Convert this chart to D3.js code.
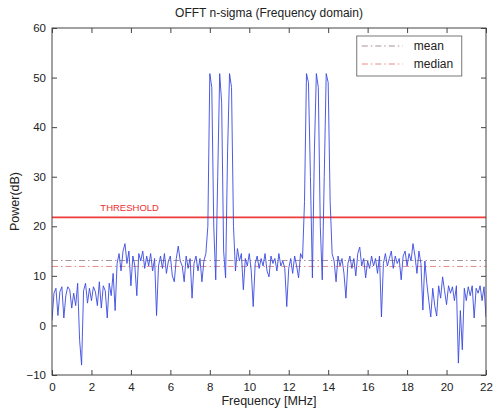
<!DOCTYPE html>
<html>
<head>
<meta charset="utf-8">
<script src="https://cdn.jsdelivr.net/npm/d3@7"></script>
<style>
  body { margin: 0; background: #fff; }
  svg text { font-family: "Liberation Sans", Arial, sans-serif; }
</style>
</head>
<body>
<div id="chart"></div>
<script>
// bin spacing of the spectrum in MHz
const freqStep = 0.1;

// power in dB, one value per 0.1 MHz bin from 0 to 22 MHz
const power = [
  1.0, 6.5, 7.5, 2.0, 6.8, 7.8, 1.5, 6.0, 7.8, 7.2,
  3.5, 6.5, 4.0, 8.5, -3.0, -8.0, 7.0, 8.5, 4.5, 7.5,
  5.0, 7.8, 6.8, 4.0, 8.8, 3.5, 8.0, 7.0, 1.5, 8.5,
  6.0, 10.5, 3.0, 12.5, 14.5, 11.0, 15.0, 16.5, 12.5, 15.0,
  8.0, 14.0, 12.0, 6.0, 14.5, 13.0, 15.0, 11.5, 14.0, 12.0,
  14.5, 11.0, 13.5, 2.0, 12.0, 14.0, 11.5, 14.5, 10.5, 13.0,
  14.0, 10.0, 8.8, 13.5, 16.0, 13.0, 12.0, 8.8, 14.0, 11.5,
  13.5, 5.5, 12.5, 14.0, 11.0, 13.5, 8.8, 13.0, 14.5, 20.0,
  50.8, 48.0, 20.0, 9.2, 30.0, 50.8, 45.0, 15.0, 9.6, 35.0,
  50.8, 48.0, 20.0, 11.0, 15.5, 13.0, 14.5, 7.2, 13.5, 12.0,
  14.5, 11.0, 3.8, 12.5, 14.0, 11.5, 13.5, 12.0, 14.5, 11.0,
  9.8, 14.0, 12.5, 13.5, 11.0, 14.5, 12.0, 13.0, 11.5, 3.8,
  11.5, 13.5, 10.5, 14.0, 12.0, 9.6, 14.5, 13.5, 25.0, 50.8,
  49.0, 30.0, 9.6, 35.0, 50.8, 48.0, 20.0, 9.2, 30.0, 50.8,
  49.0, 25.0, 14.5, 13.0, 8.8, 14.0, 12.0, 13.5, 10.5, 5.5,
  12.5, 14.0, 11.5, 13.5, 10.0, 14.5, 15.8, 12.0, 13.5, 9.6,
  13.0, 11.5, 14.0, 12.0, 13.5, 10.5, 14.0, 1.7, 12.5, 14.5,
  12.0, 13.5, 15.0, 11.5, 14.0, 12.5, 13.5, 9.2, 14.0, 15.0,
  12.0, 14.5, 13.0, 16.5, 14.0, 10.5, 15.0, 12.5, 3.1, 13.0,
  8.5, 5.0, 1.7, 7.5, 4.0, 1.9, 8.0, 5.5, 9.8, 7.0,
  4.2, 8.0, 6.5, 7.8, 5.0, 8.0, -7.6, 3.0, -4.9, 7.5,
  5.0, 7.8, 6.0, 8.0, 1.5, 7.5, 6.5, 8.0, 5.0, 7.8,
  1.7
];

// reference levels in dB
const thresholdLevel = 21.8;
const meanLevel = 13.1;
const medianLevel = 11.9;

const xTicks = [0, 2, 4, 6, 8, 10, 12, 14, 16, 18, 20, 22];
const yTicks = [-10, 0, 10, 20, 30, 40, 50, 60];
const legendItems = [
  { label: "mean", value: meanLevel, color: "#a8909c" },
  { label: "median", value: medianLevel, color: "#e68a8a" }
];

const width = 493;
const height = 414;
const margin = { top: 28, right: 7, bottom: 39, left: 52 };
const innerW = width - margin.left - margin.right;
const innerH = height - margin.top - margin.bottom;

const x = d3.scaleLinear().domain([0, 22]).range([0, innerW]);
const y = d3.scaleLinear().domain([-10, 60]).range([innerH, 0]);

const svg = d3.select("#chart")
  .append("svg")
  .attr("width", width)
  .attr("height", height);

const g = svg.append("g")
  .attr("transform", `translate(${margin.left},${margin.top})`);

// clip so the lines stay inside the box
g.append("clipPath").attr("id", "clip")
  .append("rect").attr("width", innerW).attr("height", innerH);

const plot = g.append("g").attr("clip-path", "url(#clip)");

// threshold line
plot.append("line")
  .attr("x1", 0).attr("x2", innerW)
  .attr("y1", y(thresholdLevel)).attr("y2", y(thresholdLevel))
  .attr("stroke", "#ee3b3b")
  .attr("stroke-width", 1.6);

g.append("text")
  .attr("x", x(2.45))
  .attr("y", y(thresholdLevel) - 6)
  .attr("font-size", "9.5px")
  .attr("fill", "#ee3030")
  .text("THRESHOLD");

// mean / median lines
legendItems.forEach(d => {
  plot.append("line")
    .attr("x1", 0).attr("x2", innerW)
    .attr("y1", y(d.value)).attr("y2", y(d.value))
    .attr("stroke", d.color)
    .attr("stroke-width", 1)
    .attr("stroke-dasharray", "6,3,1.5,3");
});

// the spectrum
const line = d3.line()
  .x((d, i) => x(i * freqStep))
  .y(d => y(d));

plot.append("path")
  .datum(power)
  .attr("fill", "none")
  .attr("stroke", "#3a4ae0")
  .attr("stroke-width", 0.9)
  .attr("stroke-linejoin", "round")
  .attr("d", line);

// axes, ticks inward on all four sides
const axisColor = "#444";
const tickLen = 5;

g.append("g")
  .attr("transform", `translate(0,${innerH})`)
  .call(d3.axisBottom(x).tickValues(xTicks).tickSize(-tickLen).tickPadding(8).tickFormat(d3.format("d")))
  .call(a => a.select(".domain").remove());

g.append("g")
  .call(d3.axisTop(x).tickValues(xTicks).tickSize(-tickLen).tickFormat(""))
  .call(a => a.select(".domain").remove());

g.append("g")
  .call(d3.axisLeft(y).tickValues(yTicks).tickSize(-tickLen).tickPadding(6).tickFormat(d3.format("d")))
  .call(a => a.select(".domain").remove());

g.append("g")
  .attr("transform", `translate(${innerW},0)`)
  .call(d3.axisRight(y).tickValues(yTicks).tickSize(-tickLen).tickFormat(""))
  .call(a => a.select(".domain").remove());

g.selectAll(".tick line").attr("stroke", axisColor);
g.selectAll(".tick text")
  .attr("font-size", "11.5px")
  .attr("fill", "#222")
  .style("font-family", "Liberation Sans, Arial, sans-serif");

g.append("rect")
  .attr("width", innerW).attr("height", innerH)
  .attr("fill", "none")
  .attr("stroke", axisColor)
  .attr("stroke-width", 1);

// legend
const legend = g.append("g").attr("transform", `translate(${x(15.45)},${8})`);
legend.append("rect")
  .attr("width", 105).attr("height", 40)
  .attr("fill", "#fff")
  .attr("stroke", "#555")
  .attr("stroke-width", 0.8);

legendItems.forEach((d, i) => {
  const ly = 10 + i * 18;
  legend.append("line")
    .attr("x1", 5).attr("x2", 46)
    .attr("y1", ly).attr("y2", ly)
    .attr("stroke", d.color)
    .attr("stroke-width", 1)
    .attr("stroke-dasharray", "6,3,1.5,3");
  legend.append("text")
    .attr("x", 57).attr("y", ly + 4)
    .attr("font-size", "12px")
    .attr("fill", "#222")
    .text(d.label);
});

// titles
svg.append("text")
  .attr("x", margin.left + innerW / 2)
  .attr("y", 17)
  .attr("text-anchor", "middle")
  .attr("font-size", "12px")
  .attr("fill", "#222")
  .text("OFFT n-sigma (Frequency domain)");

svg.append("text")
  .attr("x", margin.left + innerW / 2)
  .attr("y", 405)
  .attr("text-anchor", "middle")
  .attr("font-size", "12.5px")
  .attr("fill", "#222")
  .text("Frequency [MHz]");

svg.append("text")
  .attr("transform", `translate(19,${margin.top + innerH / 2}) rotate(-90)`)
  .attr("text-anchor", "middle")
  .attr("font-size", "12.5px")
  .attr("fill", "#222")
  .text("Power(dB)");
</script>
</body>
</html>
